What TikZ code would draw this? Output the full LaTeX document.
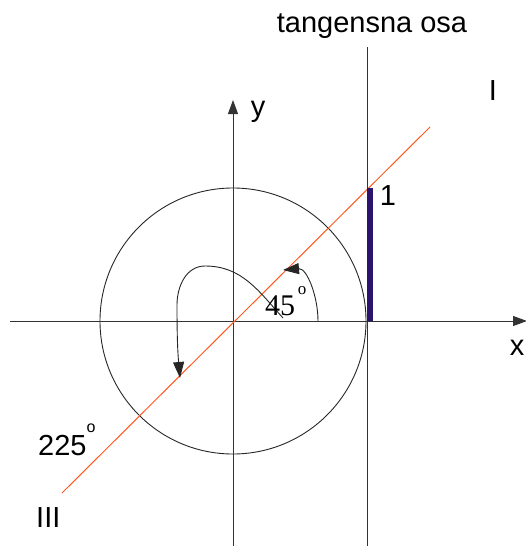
\documentclass[tikz,border=0pt]{standalone}
\usepackage{fontspec}
\setmainfont{Liberation Sans}
\newfontfamily\serifnum{Liberation Serif}
\usetikzlibrary{arrows.meta}
\definecolor{axisgray}{HTML}{333333}
\definecolor{tanorange}{HTML}{FF5A1F}
\definecolor{barpurple}{HTML}{2B1470}
\tikzset{
  axisline/.style={draw=axisgray, line width=1pt},
  thin circle/.style={draw=black!85, line width=0.9pt},
  tip/.style={-{Triangle[length=14pt,width=10pt]}},
  lbl/.style={inner sep=0pt, font=\fontsize{29}{30}\selectfont, text=black},
  sup/.style={inner sep=0pt, font=\fontsize{16}{16}\selectfont, text=black},
  anglearrow/.style={draw=black!85, line width=0.9pt, -{Triangle[length=16pt,width=11pt]}}
}
\begin{document}
\begin{tikzpicture}[x=1pt,y=-1pt]
\useasboundingbox (0,0) rectangle (525,546);
% coordinates
\coordinate (O) at (233,321);
\coordinate (xl) at (10,321);
\coordinate (xr) at (527,321);
\coordinate (yb) at (233,546);
\coordinate (yt) at (233,100);
\coordinate (tt) at (367,47);
\coordinate (tb) at (367,546);
\coordinate (bt) at (369.5,188);
\coordinate (bb) at (369.5,321);
\coordinate (ra) at (62,493);
\coordinate (rb) at (430,127);
% circle
\draw[thin circle] (O) circle[radius=133];
% axes
\draw[axisline] (xl) -- (367,321);
\draw[axisline, tip] (367,321) -- (xr);
\draw[axisline, tip] (yb) -- (yt);
% tangent axis
\draw[axisline] (tb) -- (tt);
% orange line
\draw[draw=tanorange, line width=1pt] (ra) -- (rb);
% tangent value bar
\draw[draw=barpurple, line width=6pt] (bb) -- (bt);
% angle arrows
\coordinate (a1s) at (318,321);
\coordinate (a1e) at (283,270);
\draw[anglearrow] (a1s) to[out=90,in=5] (a1e);
\coordinate (a2s) at (283,318);
\coordinate (a2m) at (205,266);
\coordinate (a2n) at (177,305);
\coordinate (a2e) at (180,378);
\draw[anglearrow] (a2s) to[out=132,in=0] (a2m) to[out=180,in=90] (a2n) to[out=-90,in=95] (a2e);
% labels
\node[lbl, anchor=base] (tlabel) at (372,32) {tangensna osa};
\node[lbl, anchor=base] (q1) at (493,100) {I};
\node[lbl, anchor=base] (ylabel) at (258,116) {y};
\node[lbl, anchor=base] (xlabel) at (517,355) {x};
\node[lbl, anchor=base] (one) at (388,205) {1};
\node[lbl, anchor=base west] (a225) at (38,455) {225};
\node[sup] (d225) at (91,428) {o};
\node[lbl, anchor=base west] (q3) at (36,527) {III};
\node[lbl, anchor=base west, font=\serifnum\fontsize{30}{30}\selectfont] (a45) at (265,315) {45};
\node[sup, font=\fontsize{17}{17}\selectfont\serifnum] (d45) at (302,291) {o};
\end{tikzpicture}
\end{document}
